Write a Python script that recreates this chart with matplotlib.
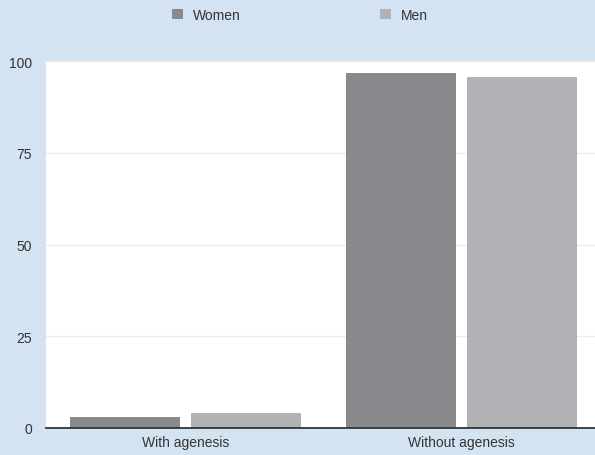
import matplotlib
matplotlib.use("Agg")
import matplotlib.pyplot as plt
from matplotlib.patches import Patch
import numpy as np

categories = ["With agenesis", "Without agenesis"]
series_names = ["Women", "Men"]
women = [3.1, 96.6]
men = [4.1, 95.7]
yticks = [0, 25, 50, 75, 100]

plt.rcParams['font.family'] = ['Liberation Sans', 'DejaVu Sans']
bg = '#d4e3f2'
c_women = '#898a8e'
c_men = '#b1b2b6'
txt = '#333333'

fig = plt.figure(figsize=(5.95, 4.56), dpi=100, facecolor=bg)
ax = fig.add_axes([46/595, 1-429/456, 1-46/595, (429-62)/456])
ax.set_facecolor('white')

x = np.arange(len(categories))
w = 0.399
off = 0.2195
ax.bar(x - off, women, width=w, color=c_women, zorder=3)
ax.bar(x + off, men, width=w, color=c_men, zorder=3)

ax.set_xlim(-0.505, 1.484)
ax.set_ylim(0, 100)
ax.set_yticks(yticks)
ax.set_yticklabels([str(v) for v in yticks])
ax.set_xticks(x)
ax.set_xticklabels(categories)
ax.tick_params(axis='both', length=0, labelsize=10, labelcolor=txt)
ax.tick_params(axis='y', pad=10)
ax.tick_params(axis='x', pad=5)
ax.grid(axis='y', color='#ececec', linewidth=1, zorder=0)
for s in ['top', 'right', 'left']:
    ax.spines[s].set_visible(False)
ax.spines['bottom'].set_color('#333333')
ax.spines['bottom'].set_linewidth(1.3)
ax.spines['bottom'].set_zorder(4)

handles = [Patch(facecolor=c_women, edgecolor='none'), Patch(facecolor=c_men, edgecolor='none')]
fig.legend(handles, series_names, loc='center', ncol=2, frameon=False,
           bbox_to_anchor=((170 + 430) / 2 / 595, 1 - 16 / 456),
           handlelength=0.8, handleheight=0.8, handletextpad=0.7,
           columnspacing=10, fontsize=10, labelcolor=txt)

fig.savefig('out.png', dpi=100, facecolor=bg)
